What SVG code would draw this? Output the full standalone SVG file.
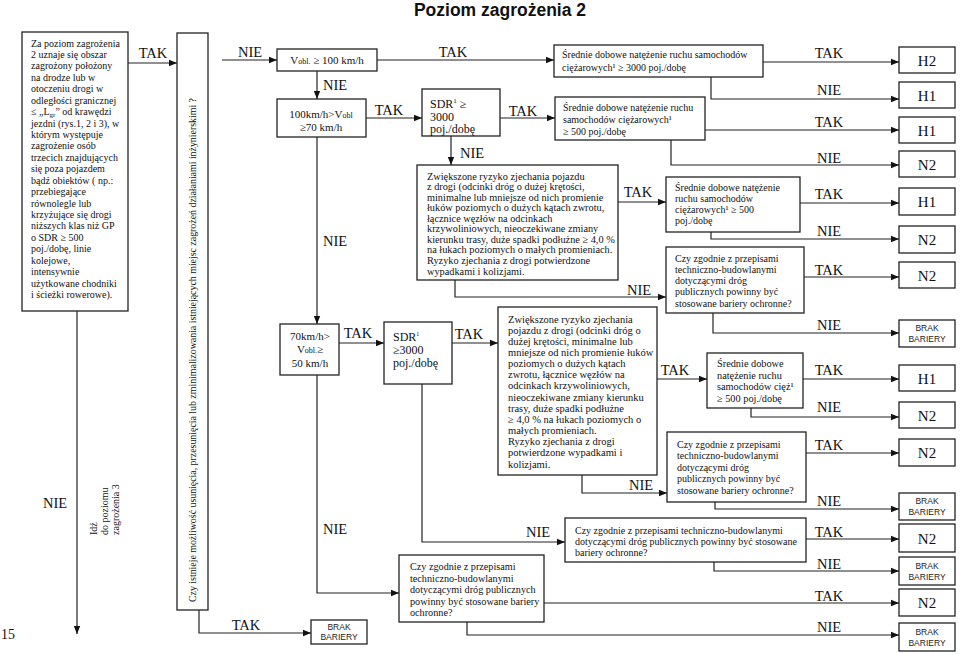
<svg xmlns="http://www.w3.org/2000/svg" width="960" height="654" viewBox="0 0 960 654">
<defs>
<marker id="a" viewBox="0 0 10 10" refX="10" refY="5" markerWidth="8" markerHeight="8" markerUnits="userSpaceOnUse" orient="auto"><path d="M0,1 L10,5 L0,9 z" fill="#111"/></marker>
<style>
.box{fill:#fff;stroke:#222;stroke-width:1.3}
.ln{fill:none;stroke:#222;stroke-width:1.2;marker-end:url(#a)}
.t{font-family:'Liberation Serif','Times New Roman',Tinos,'DejaVu Serif','Noto Serif',serif;font-size:10px;fill:#111}
.s{font-family:'Liberation Serif','Times New Roman',Tinos,'DejaVu Serif','Noto Serif',serif;font-size:12px;fill:#111}
.lbl{font-family:'Liberation Serif','Times New Roman',Tinos,'DejaVu Serif','Noto Serif',serif;font-size:14.5px;fill:#111;text-anchor:middle}
.res{font-family:'Liberation Serif','Times New Roman',Tinos,'DejaVu Serif','Noto Serif',serif;font-size:15px;fill:#111;text-anchor:middle}
.brak{font-family:'Liberation Sans',Arial,sans-serif;font-size:8.5px;fill:#222;text-anchor:middle}
.sm{font-size:8px}
</style>
</defs>
<rect width="960" height="654" fill="#fff"/>
<text x="500" y="16" text-anchor="middle" font-family="'Liberation Sans', Arial, sans-serif" font-weight="bold" font-size="17.5" fill="#111">Poziom zagrożenia 2</text>
<text x="1" y="639" style="font-family:'Liberation Serif','Times New Roman',serif;font-size:14px;fill:#111">15</text>

<g id="n-start">
<rect class="box" x="22" y="32" width="106" height="279"/>
<text class="t" x="31">
<tspan x="31" y="46.5">Za poziom zagrożenia</tspan>
<tspan x="31" y="57.9">2 uznaje się obszar</tspan>
<tspan x="31" y="69.4">zagrożony położony</tspan>
<tspan x="31" y="80.8">na drodze lub w</tspan>
<tspan x="31" y="92.2">otoczeniu drogi w</tspan>
<tspan x="31" y="103.7">odległości granicznej</tspan>
<tspan x="31" y="115.1">≤ „L<tspan font-size="7" dy="2">gr</tspan><tspan dy="-2">” od krawędzi</tspan></tspan>
<tspan x="31" y="126.5">jezdni (rys.1, 2 i 3), w</tspan>
<tspan x="31" y="137.9">którym występuje</tspan>
<tspan x="31" y="149.4">zagrożenie osób</tspan>
<tspan x="31" y="160.8">trzecich znajdujących</tspan>
<tspan x="31" y="172.2">się poza pojazdem</tspan>
<tspan x="31" y="183.7">bądź obiektów ( np.:</tspan>
<tspan x="31" y="195.1">przebiegające</tspan>
<tspan x="31" y="206.5">równolegle lub</tspan>
<tspan x="31" y="217.9">krzyżujące się drogi</tspan>
<tspan x="31" y="229.4">niższych klas niż GP</tspan>
<tspan x="31" y="240.8">o SDR ≥ 500</tspan>
<tspan x="31" y="252.2">poj./dobę, linie</tspan>
<tspan x="31" y="263.7">kolejowe,</tspan>
<tspan x="31" y="275.1">intensywnie</tspan>
<tspan x="31" y="286.5">użytkowane chodniki</tspan>
<tspan x="31" y="298">i ścieżki rowerowe).</tspan>
</text>
</g>

<g id="n-question">
<rect class="box" x="177" y="33" width="31" height="577"/>
<text class="t" transform="translate(196,350) rotate(-90)" text-anchor="middle" textLength="504">Czy istnieje możliwość usunięcia, przesunięcia lub zminimalizowania istniejących miejsc zagrożeń działaniami inżynierskimi ?</text>
</g>

<g id="n-goto3">
<text class="t" transform="translate(97,535) rotate(-90)"><tspan x="0" y="0">Idź</tspan><tspan x="0" y="11">do poziomu</tspan><tspan x="0" y="22">zagrożenia 3</tspan></text>
</g>

<g id="n-brak0">
<rect class="box" x="311" y="620" width="56" height="24"/>
<text class="brak"><tspan x="339" y="630">BRAK</tspan><tspan x="339" y="640">BARIERY</tspan></text>
</g>

<g id="n-v100">
<rect class="box" x="277" y="49" width="100" height="22"/>
<text class="t" style="font-size:11px" x="327" y="64" text-anchor="middle">V<tspan class="sm">obl.</tspan> ≥ 100 km/h</text>
</g>

<g id="n-v70">
<rect class="box" x="277" y="99" width="89" height="38"/>
<text class="t" style="font-size:11px" text-anchor="middle"><tspan x="321" y="118">100km/h&gt;V<tspan class="sm">obl</tspan></tspan><tspan x="321" y="131">≥70 km/h</tspan></text>
</g>

<g id="n-v50">
<rect class="box" x="280" y="324" width="59" height="51"/>
<text class="t" style="font-size:11px" text-anchor="middle"><tspan x="310" y="340">70km/h&gt;</tspan><tspan x="310" y="353">V<tspan class="sm">obl.</tspan>≥</tspan><tspan x="310" y="367">50 km/h</tspan></text>
</g>

<g id="n-sdr1">
<rect class="box" x="422" y="89" width="78" height="47"/>
<text class="s"><tspan x="430" y="107.5">SDR<tspan font-size="7" dy="-5">1</tspan><tspan dy="5"> ≥</tspan></tspan><tspan x="430" y="120.5">3000</tspan><tspan x="430" y="133">poj./dobę</tspan></text>
</g>

<g id="n-sdr2">
<rect class="box" x="384" y="322" width="68" height="62"/>
<text class="s"><tspan x="393" y="341">SDR<tspan font-size="6" dy="-5">1</tspan></tspan><tspan x="393" y="354">≥3000</tspan><tspan x="393" y="367">poj./dobę</tspan></text>
</g>

<g id="n-ciez3000">
<rect class="box" x="554" y="45" width="209" height="32"/>
<text class="t"><tspan x="562" y="58">Średnie dobowe natężenie ruchu samochodów</tspan><tspan x="562" y="71">ciężarowych¹ ≥ 3000 poj./dobę</tspan></text>
</g>

<g id="n-ciez500a">
<rect class="box" x="555" y="97" width="150" height="43"/>
<text class="t"><tspan x="563" y="110.5">Średnie dobowe natężenie ruchu</tspan><tspan x="563" y="122.5">samochodów ciężarowych¹</tspan><tspan x="563" y="134.5">≥ 500 poj./dobę</tspan></text>
</g>

<g id="n-ryzyko1">
<rect class="box" x="417" y="165" width="201" height="115"/>
<text class="t" style="font-size:10.3px">
<tspan x="427" y="179.5">Zwiększone ryzyko zjechania pojazdu</tspan>
<tspan x="427" y="190.1">z drogi (odcinki dróg o dużej krętości,</tspan>
<tspan x="427" y="200.6">minimalne lub mniejsze od nich promienie</tspan>
<tspan x="427" y="211.2">łuków poziomych o dużych kątach zwrotu,</tspan>
<tspan x="427" y="221.7">łącznice węzłów na odcinkach</tspan>
<tspan x="427" y="232.3">krzywoliniowych, nieoczekiwane zmiany</tspan>
<tspan x="427" y="242.9">kierunku trasy, duże spadki podłużne ≥ 4,0 %</tspan>
<tspan x="427" y="253.4">na łukach poziomych o małych promieniach.</tspan>
<tspan x="427" y="264">Ryzyko zjechania z drogi potwierdzone</tspan>
<tspan x="427" y="274.5">wypadkami i kolizjami.</tspan>
</text>
</g>

<g id="n-ciez500b">
<rect class="box" x="666" y="177" width="134" height="55"/>
<text class="t"><tspan x="675" y="190.5">Średnie dobowe natężenie</tspan><tspan x="675" y="201.8">ruchu samochodów</tspan><tspan x="675" y="213.1">ciężarowych¹ ≥ 500</tspan><tspan x="675" y="224.4">poj./dobę</tspan></text>
</g>

<g id="n-czy1">
<rect class="box" x="666" y="247" width="138" height="66"/>
<text class="t"><tspan x="675" y="261.5">Czy zgodnie z przepisami</tspan><tspan x="675" y="272.8">techniczno-budowlanymi</tspan><tspan x="675" y="284.1">dotyczącymi dróg</tspan><tspan x="675" y="295.4">publicznych powinny być</tspan><tspan x="675" y="306.7">stosowane bariery ochronne?</tspan></text>
</g>

<g id="n-ryzyko2">
<rect class="box" x="498" y="307" width="159" height="168"/>
<text class="t" style="font-size:10.5px">
<tspan x="508" y="322.5">Zwiększone ryzyko zjechania</tspan>
<tspan x="508" y="333.7">pojazdu  z drogi (odcinki dróg o</tspan>
<tspan x="508" y="344.8">dużej krętości, minimalne lub</tspan>
<tspan x="508" y="356">mniejsze od nich promienie łuków</tspan>
<tspan x="508" y="367.1">poziomych o dużych kątach</tspan>
<tspan x="508" y="378.3">zwrotu, łącznice węzłów na</tspan>
<tspan x="508" y="389.4">odcinkach krzywoliniowych,</tspan>
<tspan x="508" y="400.6">nieoczekiwane zmiany kierunku</tspan>
<tspan x="508" y="411.7">trasy, duże spadki podłużne</tspan>
<tspan x="508" y="422.9">≥ 4,0 % na łukach poziomych o</tspan>
<tspan x="508" y="434">małych promieniach.</tspan>
<tspan x="508" y="445.2">Ryzyko zjechania z drogi</tspan>
<tspan x="508" y="456.3">potwierdzone wypadkami i</tspan>
<tspan x="508" y="467.5">kolizjami.</tspan>
</text>
</g>

<g id="n-ciez500c">
<rect class="box" x="707" y="353" width="96" height="55"/>
<text class="t" style="font-size:10.3px"><tspan x="717" y="367">Średnie dobowe</tspan><tspan x="717" y="378.5">natężenie ruchu</tspan><tspan x="717" y="390">samochodów cięż¹</tspan><tspan x="717" y="401.5">≥ 500 poj./dobę</tspan></text>
</g>

<g id="n-czy2">
<rect class="box" x="667" y="432" width="139" height="70"/>
<text class="t"><tspan x="677" y="447.5">Czy zgodnie z przepisami</tspan><tspan x="677" y="459">techniczno-budowlanymi</tspan><tspan x="677" y="470.5">dotyczącymi dróg</tspan><tspan x="677" y="482">publicznych powinny być</tspan><tspan x="677" y="493.5">stosowane bariery ochronne?</tspan></text>
</g>

<g id="n-czy3">
<rect class="box" x="565" y="518" width="241" height="44"/>
<text class="t"><tspan x="575" y="533.5">Czy zgodnie z przepisami techniczno-budowlanymi</tspan><tspan x="575" y="544.5">dotyczącymi dróg publicznych powinny być stosowane</tspan><tspan x="575" y="555.5">bariery ochronne?</tspan></text>
</g>

<g id="n-czy4">
<rect class="box" x="399" y="555" width="145" height="67"/>
<text class="t" style="font-size:10.2px"><tspan x="410" y="570">Czy zgodnie z przepisami</tspan><tspan x="410" y="581.5">techniczno-budowlanymi</tspan><tspan x="410" y="593">dotyczącymi dróg publicznych</tspan><tspan x="410" y="604.5">powinny być stosowane bariery</tspan><tspan x="410" y="616">ochronne?</tspan></text>
</g>

<g id="results">
<g id="r1"><rect class="box" x="899" y="47" width="56" height="26"/><text class="res" x="927" y="65.5">H2</text></g>
<g id="r2"><rect class="box" x="899" y="82" width="56" height="26"/><text class="res" x="927" y="100.5">H1</text></g>
<g id="r3"><rect class="box" x="899" y="117" width="56" height="26"/><text class="res" x="927" y="135.5">H1</text></g>
<g id="r4"><rect class="box" x="899" y="151" width="56" height="26"/><text class="res" x="927" y="169.5">N2</text></g>
<g id="r5"><rect class="box" x="899" y="188" width="56" height="27"/><text class="res" x="927" y="207">H1</text></g>
<g id="r6"><rect class="box" x="899" y="226" width="56" height="27"/><text class="res" x="927" y="245">N2</text></g>
<g id="r7"><rect class="box" x="899" y="262" width="56" height="26"/><text class="res" x="927" y="280.5">N2</text></g>
<g id="r8"><rect class="box" x="899" y="320" width="56" height="27"/><text class="brak"><tspan x="927" y="331">BRAK</tspan><tspan x="927" y="342">BARIERY</tspan></text></g>
<g id="r9"><rect class="box" x="899" y="365" width="56" height="26"/><text class="res" x="927" y="383.5">H1</text></g>
<g id="r10"><rect class="box" x="899" y="402" width="56" height="26"/><text class="res" x="927" y="420.5">N2</text></g>
<g id="r11"><rect class="box" x="899" y="439" width="56" height="27"/><text class="res" x="927" y="458">N2</text></g>
<g id="r12"><rect class="box" x="899" y="493" width="56" height="27"/><text class="brak"><tspan x="927" y="504">BRAK</tspan><tspan x="927" y="515">BARIERY</tspan></text></g>
<g id="r13"><rect class="box" x="899" y="524" width="56" height="28"/><text class="res" x="927" y="543.5">N2</text></g>
<g id="r14"><rect class="box" x="899" y="557" width="56" height="28"/><text class="brak"><tspan x="927" y="568.5">BRAK</tspan><tspan x="927" y="579.5">BARIERY</tspan></text></g>
<g id="r15"><rect class="box" x="899" y="589" width="56" height="27"/><text class="res" x="927" y="608">N2</text></g>
<g id="r16"><rect class="box" x="899" y="623" width="56" height="28"/><text class="brak"><tspan x="927" y="634.5">BRAK</tspan><tspan x="927" y="645.5">BARIERY</tspan></text></g>
</g>

<g id="connectors">
<path class="ln" d="M128,63 H177"/>
<path class="ln" d="M77,311 V634"/>
<path class="ln" d="M199,610 V633 H311"/>
<path class="ln" d="M222,60 H277"/>
<path class="ln" d="M377,60 H554"/>
<path class="ln" d="M317,71 V99"/>
<path class="ln" d="M366,118 H422"/>
<path class="ln" d="M500,118 H555"/>
<path class="ln" d="M763,62 H899"/>
<path class="ln" d="M711,77 V99 H899"/>
<path class="ln" d="M705,130 H899"/>
<path class="ln" d="M671,140 V165 H899"/>
<path class="ln" d="M451,136 V165"/>
<path class="ln" d="M618,202 H666"/>
<path class="ln" d="M800,203 H899"/>
<path class="ln" d="M711,232 V239 H899"/>
<path class="ln" d="M455,280 V297 H666"/>
<path class="ln" d="M804,277 H899"/>
<path class="ln" d="M713,313 V333 H899"/>
<path class="ln" d="M317,137 V324"/>
<path class="ln" d="M339,343 H384"/>
<path class="ln" d="M452,343 H498"/>
<path class="ln" d="M657,379 H707"/>
<path class="ln" d="M803,379 H899"/>
<path class="ln" d="M751,408 V417 H899"/>
<path class="ln" d="M582,475 V493 H667"/>
<path class="ln" d="M806,453 H899"/>
<path class="ln" d="M715,502 V509 H899"/>
<path class="ln" d="M422,384 V542 H565"/>
<path class="ln" d="M806,539 H899"/>
<path class="ln" d="M714,562 V571 H899"/>
<path class="ln" d="M317,375 V593 H399"/>
<path class="ln" d="M544,603 H899"/>
<path class="ln" d="M467,622 V635 H899"/>
<g id="labels">
<text class="lbl" x="153" y="58">TAK</text>
<text class="lbl" x="55" y="508">NIE</text>
<text class="lbl" x="246" y="630">TAK</text>
<text class="lbl" x="250" y="57">NIE</text>
<text class="lbl" x="453" y="57">TAK</text>
<text class="lbl" x="335" y="90">NIE</text>
<text class="lbl" x="389" y="115">TAK</text>
<text class="lbl" x="523" y="116">TAK</text>
<text class="lbl" x="829" y="58">TAK</text>
<text class="lbl" x="829" y="95">NIE</text>
<text class="lbl" x="829" y="127">TAK</text>
<text class="lbl" x="829" y="163">NIE</text>
<text class="lbl" x="472" y="158">NIE</text>
<text class="lbl" x="638" y="197">TAK</text>
<text class="lbl" x="829" y="199">TAK</text>
<text class="lbl" x="829" y="236">NIE</text>
<text class="lbl" x="639" y="295">NIE</text>
<text class="lbl" x="829" y="275">TAK</text>
<text class="lbl" x="829" y="330">NIE</text>
<text class="lbl" x="335" y="246">NIE</text>
<text class="lbl" x="358" y="338">TAK</text>
<text class="lbl" x="469" y="339">TAK</text>
<text class="lbl" x="675" y="375">TAK</text>
<text class="lbl" x="829" y="375">TAK</text>
<text class="lbl" x="829" y="412">NIE</text>
<text class="lbl" x="641" y="490">NIE</text>
<text class="lbl" x="829" y="450">TAK</text>
<text class="lbl" x="829" y="506">NIE</text>
<text class="lbl" x="538" y="537">NIE</text>
<text class="lbl" x="829" y="537">TAK</text>
<text class="lbl" x="829" y="569">NIE</text>
<text class="lbl" x="335" y="534">NIE</text>
<text class="lbl" x="829" y="601">TAK</text>
<text class="lbl" x="829" y="632">NIE</text>
</g>
</g>
</svg>
